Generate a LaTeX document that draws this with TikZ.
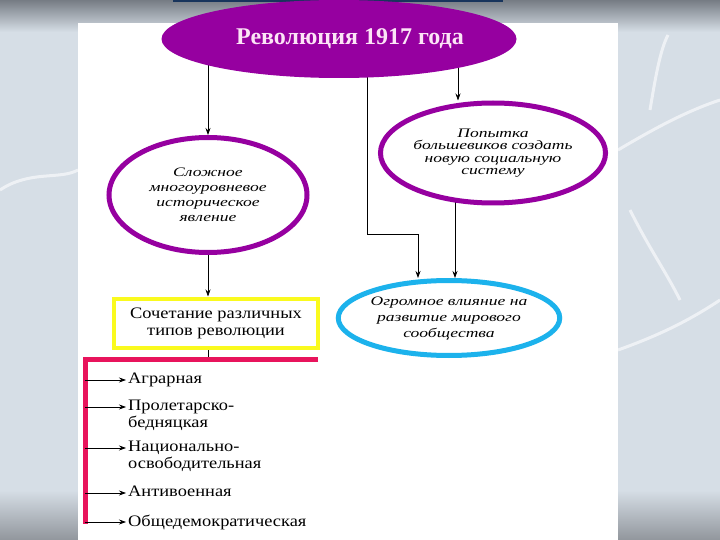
\documentclass[tikz,border=0pt]{standalone}
\usepackage{fontspec}
\setmainfont{Liberation Serif}
\newfontfamily\ovalfont[FakeStretch=1.35]{Liberation Serif}
\newfontfamily\boxfont[FakeStretch=1.15]{Liberation Serif}
\usetikzlibrary{shapes.geometric,arrows.meta,positioning}
\pgfdeclarelayer{back}
\pgfdeclarelayer{links}
\pgfsetlayers{back,links,main}
\definecolor{bgblue}{RGB}{214,222,230}
\definecolor{topgray}{RGB}{118,124,132}
\definecolor{ovalpurple}{RGB}{150,0,160}
\definecolor{titletext}{RGB}{252,228,246}
\definecolor{skyblue}{RGB}{28,178,236}
\definecolor{lemon}{RGB}{250,250,30}
\definecolor{crimson}{RGB}{232,20,92}
\definecolor{barnavy}{RGB}{24,52,92}
\tikzset{
  oval/.style={ellipse, draw=ovalpurple, line width=5pt, fill=white,
    inner sep=0pt, align=center, font=\ovalfont\itshape},
  link/.style={draw, line width=0.7pt, -{Stealth[length=7pt,width=5pt]}},
  kind/.style={anchor=north west, align=left, inner sep=0pt,
    font=\boxfont\fontsize{16}{16.5}\selectfont},
}
\begin{document}
\begin{tikzpicture}[x=1pt,y=-1pt]
    \useasboundingbox (0,0) rectangle (720,540);
    % page
    \begin{pgfonlayer}{back}
        \fill[bgblue] (0,0) rectangle (720,540);
        \shade[top color=topgray,bottom color=bgblue] (0,0) rectangle (720,32);
        \shade[top color=bgblue,bottom color=topgray!80] (0,490) rectangle (720,540);
        \draw[white,opacity=.6,line width=3pt]
            (0,190) .. controls (30,170) and (60,180) .. (78,170)
            (618,150) .. controls (660,125) and (690,110) .. (720,100)
            (630,210) .. controls (650,250) and (665,270) .. (680,300)
            (618,350) .. controls (660,335) and (690,320) .. (720,300)
            (650,110) .. controls (655,80) and (660,50) .. (668,35);
        \fill[white] (78,23) rectangle (618,540);
        \fill[barnavy] (173,0) rectangle (503,2.5);
    \end{pgfonlayer}

    % ovals
    \node[ellipse, fill=ovalpurple, inner sep=0pt, minimum width=355pt, minimum height=78pt,
        font=\fontsize{24}{26}\selectfont\bfseries, text=titletext] (title) at (339,39)
        {\hspace*{22pt}Революция 1917 года};
    \node[oval, minimum width=198pt, minimum height=115pt,
        font=\ovalfont\itshape\fontsize{13}{15}\selectfont] (complex) at (208,195)
        {Сложное\\многоуровневое\\историческое\\явление};
    \node[oval, minimum width=195pt, minimum height=100pt,
        font=\ovalfont\itshape\fontsize{13}{12.5}\selectfont] (attempt) at (493,153)
        {Попытка\\большевиков создать\\новую социальную\\систему};
    \node[oval, draw=skyblue, minimum width=219pt, minimum height=75pt,
        font=\ovalfont\itshape\fontsize{13}{16}\selectfont] (influence) at (449,318)
        {Огромное влияние на\\развитие мирового\\сообщества};
    \node[draw=lemon, line width=4pt, minimum width=204pt, minimum height=49pt,
        align=center, font=\boxfont\fontsize{16}{17}\selectfont] (combo) at (216,323)
        {Сочетание различных\\типов революции};

    % links
    \coordinate (bend) at (367,234);
    \coordinate (bartop) at (85,359);
    \coordinate (barend) at (318,359);
    \coordinate (barbot) at (85,524);
    \begin{pgfonlayer}{links}
        \draw[link] (title.center -| complex.north) -- (complex.north);
        \draw[link] (title.center -| bend) -- (bend) -| ([xshift=-31pt]influence.north);
        \draw[link] ([xshift=-35pt]title.center -| attempt.north) -- ([xshift=-35pt]attempt.north);
        \draw[link] ([xshift=-38pt]attempt.center) -- ([xshift=6pt]influence.north);
        \draw[link] (complex.center) -- (complex.center |- combo.north);
        \draw[line width=0.6pt] (complex.center |- combo.south) -- (complex.center |- bartop);
    \end{pgfonlayer}
    \draw[crimson, line width=5pt] (barend) -- (bartop) -- (barbot);

    % types of revolution
    \foreach \name/\y/\txt in {agr/380/Аграрная,
            prol/407/{Пролетарско-\\бедняцкая},
            nat/448/{Национально-\\освободительная},
            anti/493/Антивоенная,
            demo/522/Общедемократическая}{
        \coordinate (\name-tip) at (126,\y);
        \node[kind] (\name) at ([xshift=2pt,yshift=7pt]\name-tip) {\txt};
        \draw[link] (bartop |- \name-tip) -- (\name-tip);
    }
\end{tikzpicture}
\end{document}
